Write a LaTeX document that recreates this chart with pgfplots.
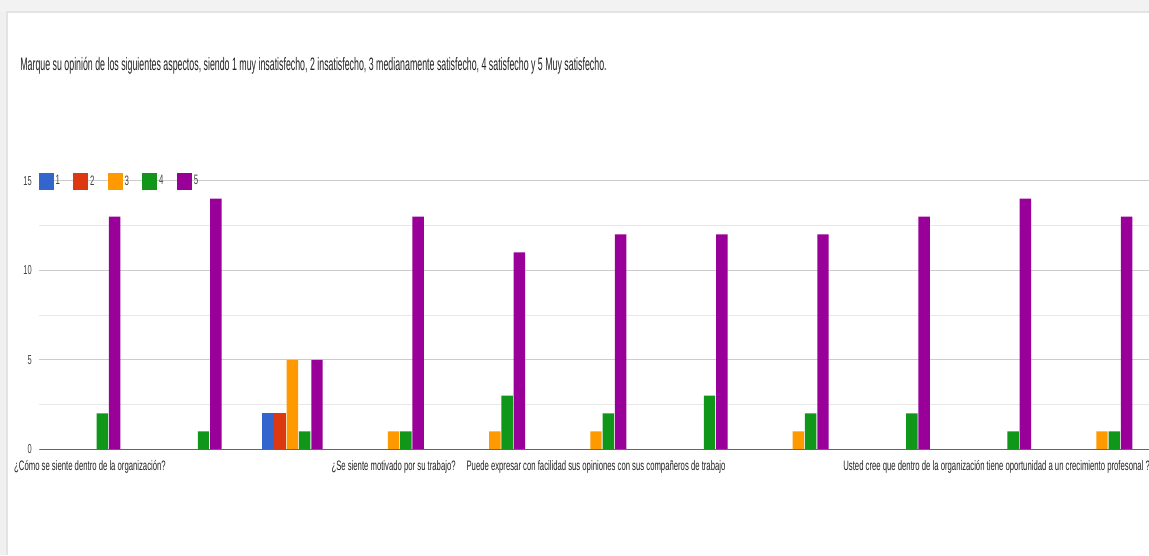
\documentclass[border=0pt]{standalone}
\usepackage{fontspec}
\setmainfont{Liberation Sans}[FakeStretch=0.575]
\newfontfamily\titlefont{Liberation Sans}[FakeStretch=0.49]
\newfontfamily\labelfont{Liberation Sans}[FakeStretch=0.565]
\usepackage{pgfplots}
\pgfplotsset{compat=1.18}

\definecolor{gblue}{HTML}{3366CC}
\definecolor{gred}{HTML}{DC3912}
\definecolor{gorange}{HTML}{FF9900}
\definecolor{ggreen}{HTML}{109618}
\definecolor{gpurple}{HTML}{990099}
\definecolor{txt}{HTML}{222222}
\definecolor{ticktxt}{HTML}{444444}

\begin{document}
\begin{tikzpicture}[x=0.6pt,y=0.6pt]
\useasboundingbox (0,0) rectangle (1149,555);
\clip (0,0) rectangle (1149,555);
% page background and card
\fill[white] (0,0) rectangle (1149,555);
\fill[black!5] (0,543) rectangle (1149,555);
\fill[black!6] (0,0) rectangle (7,543);
\draw[black!11, line width=0.9pt] (7,0) -- (7,543) -- (1149,543);

\node[anchor=base west, inner sep=0pt, text=txt, font=\titlefont\fontsize{10.8}{13}\selectfont]
  at (20,484.5) {Marque su opinión de los siguientes aspectos, siendo 1 muy insatisfecho, 2 insatisfecho, 3 medianamente satisfecho, 4 satisfecho y 5 Muy satisfecho.};

\begin{axis}[
  at={(23.64pt,63.42pt)}, anchor=south west, scale only axis,
  width=667.92pt, height=161.16pt,
  xmin=-0.5, xmax=10.5, ymin=0, ymax=15,
  ybar, bar width=0.113,
  ytick={0,5,10,15}, minor ytick={2.5,7.5,12.5},
  ymajorgrids, yminorgrids,
  major grid style={black!20, line width=0.6pt},
  minor grid style={black!9, line width=0.6pt},
  axis line style={draw=none},
  major tick length=0pt, minor tick length=0pt,
  /pgf/number format/assume math mode=true,
  yticklabel style={font=\fontsize{7.8}{10}\selectfont, text=ticktxt, inner sep=0pt, xshift=-4.4pt},
  xtick={0,3,5,9},
  xticklabels={¿Cómo se siente dentro de la organización?,
               ¿Se siente motivado por su trabajo?,
               Puede expresar con facilidad sus opiniones con sus compañeros de trabajo,
               Usted cree que dentro de la organización tiene oportunidad a un crecimiento profesonal ?\hspace*{5pt}},
  xticklabel style={font=\labelfont\fontsize{8.2}{10}\selectfont, text=txt, inner sep=0pt, yshift=-6.4pt},
  legend columns=5,
  legend style={at={(-0.001,0.997)}, anchor=west, draw=none, fill=none,
    inner sep=0pt, font=\fontsize{8.2}{10}\selectfont, text=ticktxt,
    nodes={inner sep=1.2pt},
    /tikz/every even column/.append style={column sep=6.7pt}},
  legend image code/.code={\fill[#1,draw=none] (0pt,-5.1pt) rectangle (9pt,5.1pt);},
]
% answers 1 to 5, one series per answer; zero counts are left out
\addplot[fill=gblue, draw=none, bar shift=-0.243] coordinates {(2,2)};
\addlegendentry{1}
\addplot[fill=gred, draw=none, bar shift=-0.1215] coordinates {(2,2)};
\addlegendentry{2}
\addplot[fill=gorange, draw=none, bar shift=0] coordinates {(2,5) (3,1) (4,1) (5,1) (7,1) (10,1)};
\addlegendentry{3}
\addplot[fill=ggreen, draw=none, bar shift=0.1215] coordinates {(0,2) (1,1) (2,1) (3,1) (4,3) (5,2) (6,3) (7,2) (8,2) (9,1) (10,1)};
\addlegendentry{4}
\addplot[fill=gpurple, draw=none, bar shift=0.243] coordinates {(0,13) (1,14) (2,5) (3,13) (4,11) (5,12) (6,12) (7,12) (8,13) (9,14) (10,13)};
\addlegendentry{5}
\draw[black!60, line width=0.9pt] (axis cs:-0.5,0) -- (axis cs:10.5,0);
\end{axis}
\end{tikzpicture}
\end{document}
